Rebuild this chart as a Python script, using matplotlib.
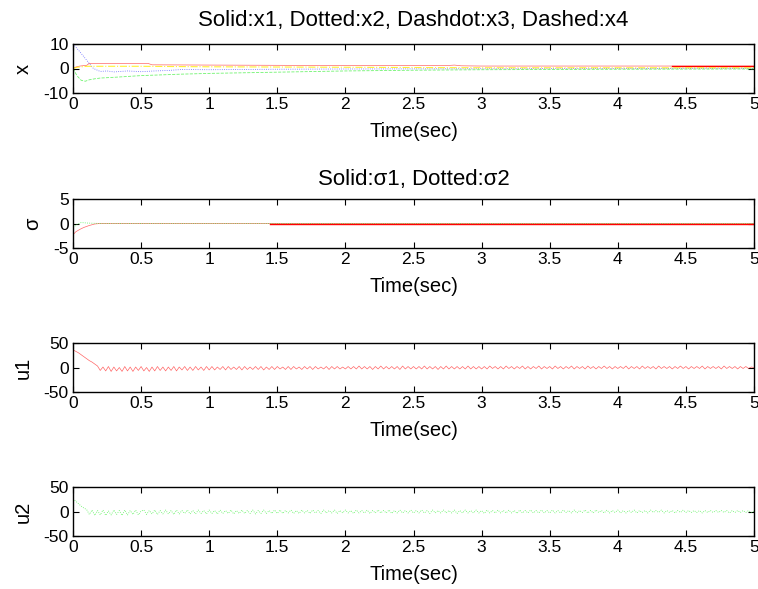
import numpy as np
import matplotlib.pyplot as plt

plt.rcParams['font.family'] = ['Liberation Sans', 'DejaVu Sans']
plt.rcParams['font.size'] = 12
plt.rcParams['axes.unicode_minus'] = False

# state trajectories (knots)
t_x1 = [0, 0.02, 0.05, 0.1, 0.12, 0.55, 0.58, 1.0, 2.0, 2.75, 2.8, 2.85, 3.0, 4.0, 5.0]
x1 = [0, 0.6, 1.0, 1.3, 2.1, 2.1, 1.5, 1.4, 1.2, 1.2, 1.4, 1.1, 1.0, 1.0, 1.0]
t_x2 = [0, 0.04, 0.08, 0.12, 0.15, 0.2, 0.25, 0.3, 0.4, 0.5, 0.6, 0.7, 0.8, 1.0, 1.5, 2.0, 3.0, 4.0, 5.0]
x2 = [10, 7.5, 4.8, 2.0, 0.0, -1.2, -1.0, -1.4, -1.0, -1.3, -1.0, -0.8, -0.4, -0.5, -0.3, -0.2, -0.1, 0.0, 0.0]
t_x3 = [0, 0.03, 0.1, 0.5, 1.0, 2.0, 3.0, 5.0]
x3 = [0, 0.5, 0.9, 0.9, 0.7, 0.5, 0.3, 0.3]
t_x4 = [0, 0.03, 0.06, 0.09, 0.12, 0.16, 0.2, 0.3, 0.5, 0.8, 1.0, 1.5, 2.0, 2.5, 3.0, 4.0, 5.0]
x4 = [0, -3.0, -4.8, -5.2, -4.6, -4.2, -3.9, -3.6, -2.9, -2.3, -2.0, -1.5, -1.0, -0.7, -0.5, -0.3, -0.2]

# sliding variables
t_s1 = [0, 0.02, 0.05, 0.08, 0.12, 0.16, 0.2, 1.45, 5.0]
s1 = [-2.3, -1.7, -1.2, -0.8, -0.4, -0.1, 0, 0, 0]
t_s2 = [0, 0.03, 0.06, 0.1, 0.2, 5.0]
s2 = [-0.8, -0.2, 0.2, 0.1, 0, 0]

# control inputs, sampled every 0.02 s
u1 = [36, 33, 30, 26, 22, 18, 14, 11, 7, 3, -6,
      1, -7, 2, -8, 1, -7, 0, -8, 2, -7, 1, -8, 1, -6, 2, -7, 0, -8, 1, -7,
      2, -6, 1, -7, 1, -6, 2, -7, 1, -5, 2, -6, 1, -6, 2, -5, 1, -6, 2, -5,
      2, -5, 1, -4, 2, -5, 2, -4, 1, -4, 2, -5, 2, -4, 1, -4, 2, -4, 2, -5,
      1, -4, 2, -4, 2, -3, 1, -4, 2, -4, 2, -3, 1, -4, 2, -3, 2, -4, 2, -3,
      1, -3, 2, -4, 2, -3, 2, -3, 1, -3,
      2, -3, 2, -3, 3, -3, 2, -3, 2, -4, 2, -3, 3, -3, 2, -3, 2, -3, 2, -4,
      3, -3, 2, -3, 2, -3, 2, -3, 3, -3, 2, -3, 2, -4, 2, -3, 3, -3, 2, -3,
      2, -3, 2, -3, 3, -3, 2, -3, 2, -3,
      2, -3, 3, -2, 2, -3, 2, -3, 3, -2, 2, -3, 2, -2, 3, -3, 2, -3, 2, -2,
      3, -3, 2, -2, 2, -3, 3, -2, 2, -3, 2, -2, 3, -3, 2, -2, 2, -3, 3, -2,
      2, -3, 2, -2, 3, -2, 2, -3, 2, -2,
      2, -2, 3, -3, 2, -2, 2, -3, 3, -2, 2, -2, 2, -3, 3, -2, 2, -2, 2, -3,
      2, -2, 3, -2, 2, -3, 2, -2, 2, -2, 3, -3, 2, -2, 2, -2, 2, -3, 3, -2,
      2, -2, 2, -3, 2, -2, 2, -2, 1, 0]
u2 = [26, 21, 16, 11, 7, 4,
      -6, 3, -8, 2, -7, 3, -8, 1, -7, 3, -6, 2, -8, 3, -7, 2, -6, 3, -7, 1,
      3, -6, 2, -5, 3, -6, 2, -5, 3, -5, 2, -6, 3, -5, 2, -4, 3, -5, 2, -5,
      3, -4, 2, -5, 3, -4, 2, -5, 3, -4, 2, -4, 3, -5, 2, -4, 3, -4, 2, -4,
      3, -5, 2, -4, 3, -4, 2, -4, 3, -4,
      3, -4, 2, -3, 3, -4, 2, -4, 3, -3, 2, -4, 3, -3, 2, -4, 3, -3, 2, -3,
      3, -4, 2, -3, 3, -3, 2, -4, 3, -3, 2, -3, 3, -4, 2, -3, 3, -3, 2, -3,
      3, -4, 2, -3, 3, -3, 2, -3, 3, -3,
      2, -3, 3, -3, 2, -4, 3, -3, 2, -3, 3, -3, 2, -3, 3, -4, 2, -3, 3, -3,
      2, -3, 3, -3, 2, -4, 3, -3, 2, -3, 3, -3, 2, -3, 3, -3, 2, -4, 3, -3,
      2, -3, 3, -3, 2, -3, 3, -3, 2, -3,
      3, -3, 2, -3, 3, -2, 2, -3, 3, -3, 2, -2, 3, -3, 2, -3, 3, -2, 2, -3,
      3, -3, 2, -2, 3, -3, 2, -3, 2, -2, 3, -3, 2, -2, 2, -3, 3, -2, 2, -2,
      3, -3, 2, -2, 2, -3, 2, -2, 3, -2,
      2, -2, 2, -2, 2, -3, 2, -2, 2, -2, 2, -2, 2, -2, 2, -3, 2, -2, 2, -2,
      2, -2, 2, -2, 1]

xticks = [0, 0.5, 1, 1.5, 2, 2.5, 3, 3.5, 4, 4.5, 5]
xticklabels = ['0', '0.5', '1', '1.5', '2', '2.5', '3', '3.5', '4', '4.5', '5']

fig = plt.figure(figsize=(7.58, 5.89), dpi=100)
left, width = 73 / 758, 681 / 758
tops = [44, 199, 343, 487]
h = 49 / 589
axes = [fig.add_axes([left, 1 - (tp + 49) / 589, width, h]) for tp in tops]


def style(ax, yl, ylab):
    ax.set_xlim(0, 5)
    ax.set_ylim(-yl, yl)
    ax.set_xticks(xticks)
    ax.set_xticklabels(xticklabels)
    ax.set_yticks([-yl, 0, yl])
    ax.tick_params(direction='in', top=True, right=True, length=4, width=0.8, pad=3, labelsize=12.5)
    ax.set_xlabel('Time(sec)', fontsize=14.5, labelpad=7)
    ax.set_ylabel(ylab, fontsize=14.5, labelpad=8)
    for s in ax.spines.values():
        s.set_linewidth(1.0)


ax = axes[0]
t1 = np.array(t_x1)
ax.plot(t_x1, x1, color='red', lw=0.5, alpha=0.6)
late = t1 >= 4.4
ax.plot(np.r_[4.4, t1[late]], np.r_[1.0, np.array(x1)[late]], color='red', lw=1.0)
ax.plot(t_x2, x2, color='blue', lw=0.6, ls=':', alpha=0.6)
ax.plot(t_x3, x3, color='#ffee00', lw=0.8, ls='-.', alpha=0.8)
ax.plot(t_x4, x4, color='#33ee33', lw=0.6, ls='--', alpha=0.7)
style(ax, 10, 'x')
ax.set_title('Solid:x1, Dotted:x2, Dashdot:x3, Dashed:x4', fontsize=16, pad=13)

ax = axes[1]
ax.plot(t_s1, s1, color='red', lw=0.5, alpha=0.6)
ax.plot([1.45, 5.0], [0, 0], color='red', lw=1.0)
ax.plot(t_s2, s2, color='#33ee33', lw=0.6, ls=':', alpha=0.8)
style(ax, 5, 'σ')
ax.set_title('Solid:σ1, Dotted:σ2', fontsize=16, pad=10)

ax = axes[2]
ax.plot(np.linspace(0, 5, len(u1)), u1, color='red', lw=0.5, alpha=0.6)
style(ax, 50, 'u1')

ax = axes[3]
ax.plot(np.linspace(0, 5, len(u2)), u2, color='#33ee33', lw=0.6, ls=':', alpha=0.8)
style(ax, 50, 'u2')

fig.savefig('out.png', dpi=100)
